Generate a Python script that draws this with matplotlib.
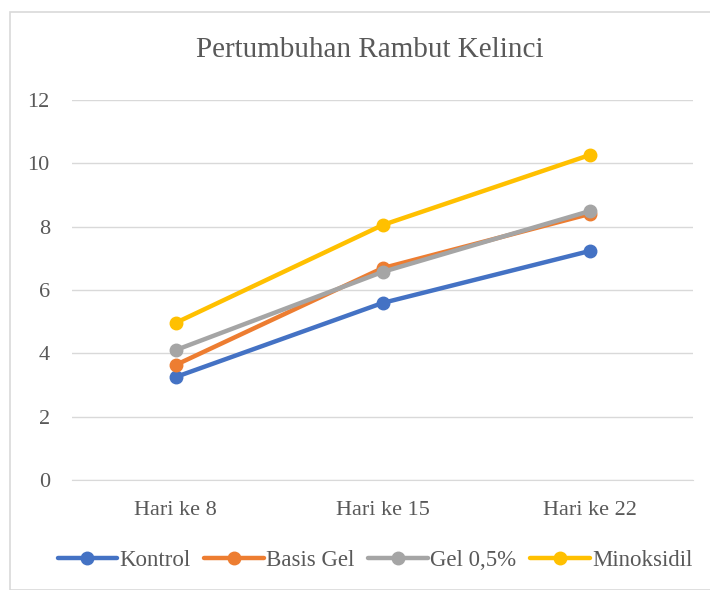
import matplotlib.pyplot as plt
from matplotlib.patches import Rectangle

days = ["Hari ke 8", "Hari ke 15", "Hari ke 22"]
kontrol = [3.25, 5.59, 7.23]
basis_gel = [3.63, 6.69, 8.40]
gel_05 = [4.10, 6.57, 8.49]
minoksidil = [4.96, 8.05, 10.26]

series = [
    ("Kontrol", kontrol, "#4472C4"),
    ("Basis Gel", basis_gel, "#ED7D31"),
    ("Gel 0,5%", gel_05, "#A5A5A5"),
    ("Minoksidil", minoksidil, "#FFC000"),
]

plt.rcParams['font.family'] = ['Liberation Serif', 'DejaVu Serif']

fig = plt.figure(figsize=(7.1, 5.9), dpi=100)
fig.patches.append(Rectangle((10 / 710, 0.0), 0.99, 1 - 12 / 590, transform=fig.transFigure,
                             fill=False, edgecolor="#D9D9D9", linewidth=1.2))
ax = fig.add_axes([72 / 710, 1 - 480 / 590, 621 / 710, 380 / 590])

x = range(len(days))
for name, vals, color in series:
    ax.plot(x, vals, color=color, linewidth=3.2, marker="o", markersize=9, label=name,
            solid_capstyle="round")

ax.set_xlim(-0.5, 2.5)
ax.set_ylim(0, 12)
ax.set_yticks(range(0, 13, 2))
ax.set_xticks(list(x))
ax.set_xticklabels(days)
ax.grid(axis="y", color="#D9D9D9", linewidth=1)
ax.set_axisbelow(True)
for s in ["top", "right", "left"]:
    ax.spines[s].set_visible(False)
ax.spines["bottom"].set_color("#D9D9D9")
ax.tick_params(length=0, labelsize=16, colors="#595959")
ax.tick_params(axis="x", pad=15)
ax.tick_params(axis="y", pad=16)

fig.text(370 / 710, 1 - 50 / 590, "Pertumbuhan Rambut Kelinci", ha="center", va="center",
         fontsize=21, color="#595959")
fig.legend(loc="center", bbox_to_anchor=(375 / 710, 1 - 560 / 590), ncol=4, frameon=False,
           fontsize=16.5, handlelength=2.6, columnspacing=0.6, handletextpad=0.1,
           labelcolor="#595959")

fig.savefig("out.png", dpi=100)
